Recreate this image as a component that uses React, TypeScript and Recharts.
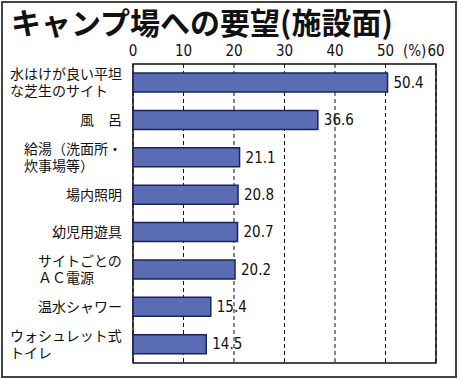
import React from 'react';
import { BarChart, Bar, XAxis, YAxis, CartesianGrid, ReferenceArea, LabelList } from 'recharts';

const categories = [
  ['水はけが良い平坦', 'な芝生のサイト'],
  ['風　呂'],
  ['給湯（洗面所・', '炊事場等）'],
  ['場内照明'],
  ['幼児用遊具'],
  ['サイトごとの', 'ＡＣ電源'],
  ['温水シャワー'],
  ['ウォシュレット式', 'トイレ'],
];
const values = [50.4, 36.6, 21.1, 20.8, 20.7, 20.2, 15.4, 14.5];
const xTicks = [0, 10, 20, 30, 40, 50, 60];

const data = categories.map((lines, i) => ({ name: lines.join('\n'), value: values[i] }));

const jp = '"Noto Sans CJK JP", "Noto Sans", sans-serif';
const num = '"Liberation Sans Narrow", "DejaVu Sans Condensed", "Roboto", sans-serif';

// category label: lines share one left edge, block ends at x=122
const CatTick = (props: any) => {
  const { y, payload } = props;
  const lines: string[] = String(payload.value).split('\n');
  const size = 14;
  const longest = Math.max(...lines.map((l) => l.length));
  const single = lines.length === 1;
  const x = single ? 122 : 122 - longest * size;
  const lh = 17;
  const top = y - ((lines.length - 1) * lh) / 2;
  return (
    <text
      x={x}
      y={top}
      textAnchor={single ? 'end' : 'start'}
      fontFamily={jp}
      fontSize={size}
      fill="#111"
    >
      {lines.map((l, i) => (
        <tspan key={i} x={x} dy={i === 0 ? '0.36em' : lh}>
          {l}
        </tspan>
      ))}
    </text>
  );
};

const NumTick = (props: any) => {
  const { x, payload } = props;
  return (
    <text x={x} y={56} textAnchor="middle" fontFamily={num} fontSize={15} fill="#111">
      {payload.value}
    </text>
  );
};

export default function App() {
  return (
    <div style={{ position: 'absolute', left: 0, top: 0, width: 458, height: 379, background: '#fff' }}>
      {/* outer frame */}
      <div
        style={{
          position: 'absolute',
          left: 1,
          top: 1,
          width: 452,
          height: 373,
          border: '2px solid #444',
        }}
      />
      {/* title */}
      <div
        style={{
          position: 'absolute',
          left: 11,
          top: 5,
          fontFamily: jp,
          fontWeight: 700,
          fontSize: 30,
          lineHeight: '32px',
          color: '#111',
          whiteSpace: 'nowrap',
        }}
      >
        キャンプ場への要望(施設面)
      </div>
      <div style={{ position: 'absolute', left: 0, top: 0 }}>
        <BarChart
          width={458}
          height={379}
          data={data}
          layout="vertical"
          margin={{ top: 44, right: 22, bottom: 16, left: 8 }}
          barSize={19}
        >
          <CartesianGrid horizontal={false} stroke="#111" strokeDasharray="4 3" />
          <XAxis
            type="number"
            orientation="top"
            domain={[0, 60]}
            ticks={xTicks}
            height={20}
            axisLine={false}
            tickLine={false}
            tick={<NumTick />}
            interval={0}
          />
          <YAxis
            type="category"
            dataKey="name"
            width={125}
            axisLine={false}
            tickLine={false}
            tick={<CatTick />}
            interval={0}
          />
          <Bar dataKey="value" fill="#5a6cb3" stroke="#1a2455" strokeWidth={1.5} isAnimationActive={false}>
            <LabelList
              dataKey="value"
              position="right"
              offset={6}
              fontFamily={num}
              fontSize={15}
              fill="#111"
              formatter={(v: any) => Number(v).toFixed(1)}
            />
          </Bar>
          <ReferenceArea x1={0} x2={60} fill="none" stroke="#111" strokeWidth={1.5} ifOverflow="visible" />
        </BarChart>
      </div>
      <div
        style={{
          position: 'absolute',
          left: 403,
          top: 42,
          fontFamily: num,
          fontSize: 15,
          color: '#111',
        }}
      >
        (%)
      </div>
    </div>
  );
}
